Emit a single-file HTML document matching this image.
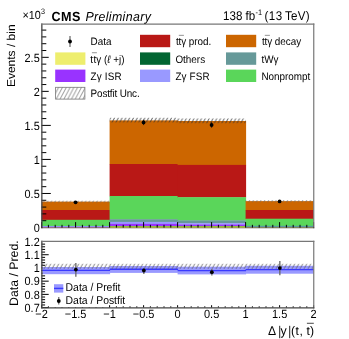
<!DOCTYPE html><html><head><meta charset="utf-8"><style>html,body{margin:0;padding:0;background:#fff;overflow:hidden;}svg{display:block;will-change:transform;}text{font-family:"Liberation Sans", sans-serif;text-rendering:geometricPrecision;}</style></head><body>
<svg width="349" height="339" viewBox="0 0 349 339">
<defs>
<pattern id="hat" patternUnits="userSpaceOnUse" width="3.8" height="7.2"><path d="M-1.9,7.2 L1.9,0 M1.9,7.2 L5.7,0" stroke="#333" stroke-width="0.8" fill="none"/></pattern>
<pattern id="hat2" patternUnits="userSpaceOnUse" width="3.8" height="7.2"><path d="M-1.9,7.2 L1.9,0 M1.9,7.2 L5.7,0" stroke="#666" stroke-width="0.75" fill="none"/></pattern>
<pattern id="hatr" patternUnits="userSpaceOnUse" width="4.0" height="7.0" patternTransform="translate(0.8,263.8)"><path d="M-2,7 L2,0 M2,7 L6,0" stroke="#555" stroke-width="0.75" fill="none"/></pattern>
<pattern id="hatl" patternUnits="userSpaceOnUse" width="3.8" height="7.2" patternTransform="translate(0.3,0)"><path d="M-1.9,7.2 L1.9,0 M1.9,7.2 L5.7,0" stroke="#666" stroke-width="0.7" fill="none"/></pattern>
</defs>
<rect x="0" y="0" width="349" height="339" fill="#fff"/>
<rect x="41.60" y="201.60" width="68.50" height="8.70" fill="#cc6600"/>
<rect x="41.60" y="210.00" width="68.50" height="10.10" fill="#b91816"/>
<rect x="41.60" y="219.80" width="68.50" height="6.50" fill="#5ad65a"/>
<rect x="41.60" y="226.00" width="68.50" height="1.30" fill="#8c8cf0"/>
<rect x="41.60" y="227.00" width="68.50" height="1.00" fill="#d49cba"/>
<rect x="109.60" y="120.40" width="68.50" height="43.90" fill="#cc6600"/>
<rect x="109.60" y="164.00" width="68.50" height="32.30" fill="#b91816"/>
<rect x="109.60" y="196.00" width="68.50" height="23.50" fill="#5ad65a"/>
<rect x="109.60" y="219.20" width="68.50" height="3.00" fill="#669999"/>
<rect x="109.60" y="221.90" width="68.50" height="2.30" fill="#9999ff"/>
<rect x="109.60" y="223.90" width="68.50" height="2.40" fill="#9933ff"/>
<rect x="109.60" y="226.00" width="68.50" height="1.30" fill="#8cbe3c"/>
<rect x="109.60" y="227.00" width="68.50" height="1.00" fill="#eee870"/>
<rect x="177.60" y="121.00" width="68.50" height="44.20" fill="#cc6600"/>
<rect x="177.60" y="164.90" width="68.50" height="32.60" fill="#b91816"/>
<rect x="177.60" y="197.20" width="68.50" height="23.50" fill="#5ad65a"/>
<rect x="177.60" y="220.40" width="68.50" height="3.10" fill="#669999"/>
<rect x="177.60" y="223.20" width="68.50" height="1.70" fill="#9999ff"/>
<rect x="177.60" y="224.60" width="68.50" height="1.70" fill="#9933ff"/>
<rect x="177.60" y="226.00" width="68.50" height="1.30" fill="#8cbe3c"/>
<rect x="177.60" y="227.00" width="68.50" height="1.00" fill="#eee870"/>
<rect x="245.60" y="201.10" width="68.00" height="9.20" fill="#cc6600"/>
<rect x="245.60" y="210.00" width="68.00" height="9.00" fill="#b91816"/>
<rect x="245.60" y="218.70" width="68.00" height="7.40" fill="#5ad65a"/>
<rect x="245.60" y="225.80" width="68.00" height="1.50" fill="#5a96a0"/>
<rect x="245.60" y="227.00" width="68.00" height="1.00" fill="#baba80"/>
<rect x="41.60" y="200.70" width="68.00" height="1.80" fill="url(#hat2)"/>
<rect x="109.60" y="117.80" width="68.00" height="4.60" fill="url(#hat)"/>
<rect x="177.60" y="118.50" width="68.00" height="4.70" fill="url(#hat)"/>
<rect x="245.60" y="200.10" width="68.00" height="2.10" fill="url(#hat2)"/>
<path d="M75.60,201.00V203.60" stroke="#111" stroke-width="0.9"/>
<circle cx="75.60" cy="202.30" r="1.9" fill="#000"/>
<path d="M143.60,119.70V125.10" stroke="#111" stroke-width="0.9"/>
<circle cx="143.60" cy="122.40" r="1.9" fill="#000"/>
<path d="M211.60,122.30V127.70" stroke="#111" stroke-width="0.9"/>
<circle cx="211.60" cy="125.00" r="1.9" fill="#000"/>
<path d="M279.60,200.10V202.70" stroke="#111" stroke-width="0.9"/>
<circle cx="279.60" cy="201.40" r="1.9" fill="#000"/>
<path d="M41.5,220.69h4.8 M41.5,213.89h4.8 M41.5,207.08h4.8 M41.5,200.27h4.8 M41.5,193.47h9.3 M41.5,186.66h4.8 M41.5,179.85h4.8 M41.5,173.04h4.8 M41.5,166.24h4.8 M41.5,159.43h9.3 M41.5,152.62h4.8 M41.5,145.82h4.8 M41.5,139.01h4.8 M41.5,132.20h4.8 M41.5,125.40h9.3 M41.5,118.59h4.8 M41.5,111.78h4.8 M41.5,104.97h4.8 M41.5,98.17h4.8 M41.5,91.36h9.3 M41.5,84.55h4.8 M41.5,77.75h4.8 M41.5,70.94h4.8 M41.5,64.13h4.8 M41.5,57.33h9.3 M41.5,50.52h4.8 M41.5,43.71h4.8 M41.5,36.90h4.8 M41.5,30.10h4.8 M41.60,227.6v-5.5 M48.40,227.6v-2.8 M55.20,227.6v-2.8 M62.00,227.6v-2.8 M68.80,227.6v-2.8 M75.60,227.6v-5.5 M82.40,227.6v-2.8 M89.20,227.6v-2.8 M96.00,227.6v-2.8 M102.80,227.6v-2.8 M109.60,227.6v-5.5 M116.40,227.6v-2.8 M123.20,227.6v-2.8 M130.00,227.6v-2.8 M136.80,227.6v-2.8 M143.60,227.6v-5.5 M150.40,227.6v-2.8 M157.20,227.6v-2.8 M164.00,227.6v-2.8 M170.80,227.6v-2.8 M177.60,227.6v-5.5 M184.40,227.6v-2.8 M191.20,227.6v-2.8 M198.00,227.6v-2.8 M204.80,227.6v-2.8 M211.60,227.6v-5.5 M218.40,227.6v-2.8 M225.20,227.6v-2.8 M232.00,227.6v-2.8 M238.80,227.6v-2.8 M245.60,227.6v-5.5 M252.40,227.6v-2.8 M259.20,227.6v-2.8 M266.00,227.6v-2.8 M272.80,227.6v-2.8 M279.60,227.6v-5.5 M286.40,227.6v-2.8 M293.20,227.6v-2.8 M300.00,227.6v-2.8 M306.80,227.6v-2.8 M313.60,227.6v-5.5" stroke="#000" stroke-width="1" fill="none"/>
<path d="M41.85,23.50V228.20" stroke="#444" stroke-width="1.3" fill="none"/>
<path d="M313.75,23.50V228.20" stroke="#777" stroke-width="1.2" fill="none"/>
<path d="M41.2,24.10H314.35" stroke="#777" stroke-width="1.2" fill="none"/>
<path d="M41.2,227.5H314.35" stroke="#000" stroke-opacity="0.3" stroke-width="1" fill="none"/>
<path d="M41.2,228.5H314.35" stroke="#000" stroke-opacity="0.17" stroke-width="1" fill="none"/>
<text transform="translate(39.70,231.80) scale(0.92,1)" font-size="11.848" text-anchor="end">0</text>
<text transform="translate(39.70,197.77) scale(0.92,1)" font-size="11.848" text-anchor="end">0.5</text>
<text transform="translate(39.70,163.73) scale(0.92,1)" font-size="11.848" text-anchor="end">1</text>
<text transform="translate(39.70,129.70) scale(0.92,1)" font-size="11.848" text-anchor="end">1.5</text>
<text transform="translate(39.70,95.66) scale(0.92,1)" font-size="11.848" text-anchor="end">2</text>
<text transform="translate(39.70,61.63) scale(0.92,1)" font-size="11.848" text-anchor="end">2.5</text>
<text transform="translate(22.60,19.00) scale(0.92,1)" font-size="11.739">×</text>
<text transform="translate(28.70,19.00) scale(0.92,1)" font-size="11.739">10</text>
<text transform="translate(40.90,13.60) scale(0.92,1)" font-size="7.826">3</text>
<text transform="translate(51.50,20.70) scale(0.955,1)" font-size="13.194" letter-spacing="0.419" font-weight="bold">CMS</text>
<text transform="translate(85.40,20.70) scale(0.95,1)" font-size="13.053" letter-spacing="0.368" font-style="italic">Preliminary</text>
<text transform="translate(223.00,19.90) scale(0.92,1)" font-size="12.609">138 fb</text>
<text transform="translate(255.60,14.70) scale(0.92,1)" font-size="8.043">-1</text>
<text transform="translate(264.40,19.90) scale(0.92,1)" font-size="12.609" letter-spacing="0.543">(13</text>
<text transform="translate(285.00,19.90) scale(0.92,1)" font-size="12.609" letter-spacing="0.326">TeV)</text>
<text transform="translate(14.5,87.1) scale(0.96,1) rotate(-90)" font-size="12">Events / bin</text>
<rect x="48.7" y="27" width="262" height="83" fill="#fff"/>
<path d="M70.0,36.00V46.90" stroke="#555" stroke-width="1.1"/>
<circle cx="70.0" cy="41.50" r="1.9" fill="#000"/>
<text transform="translate(90.60,44.90) scale(0.92,1)" font-size="10.761">Data</text>
<rect x="140.00" y="34.80" width="30.2" height="12.4" fill="#b91816"/>
<text transform="translate(175.90,44.90) scale(0.92,1)" font-size="10.761">t</text>
<text transform="translate(178.40,44.90) scale(0.92,1)" font-size="10.761">t</text>
<text transform="translate(181.30,44.90) scale(0.92,1)" font-size="10.761">γ</text>
<rect x="178.80" y="34.85" width="5.1" height="0.9" fill="#888"/>
<text transform="translate(188.70,44.90) scale(0.92,1)" font-size="10.761">prod.</text>
<rect x="226.00" y="34.80" width="30.2" height="12.4" fill="#cc6600"/>
<text transform="translate(261.90,44.90) scale(0.92,1)" font-size="10.761">t</text>
<text transform="translate(264.40,44.90) scale(0.92,1)" font-size="10.761">t</text>
<text transform="translate(267.30,44.90) scale(0.92,1)" font-size="10.761">γ</text>
<rect x="264.80" y="34.85" width="5.1" height="0.9" fill="#888"/>
<text transform="translate(274.70,44.90) scale(0.92,1)" font-size="10.761">decay</text>
<rect x="55.20" y="52.40" width="30.2" height="12.4" fill="#eeee6e"/>
<text transform="translate(90.30,62.50) scale(0.92,1)" font-size="10.761">t</text>
<text transform="translate(93.50,62.50) scale(0.92,1)" font-size="10.761">t</text>
<text transform="translate(96.20,62.50) scale(0.92,1)" font-size="10.761">γ</text>
<rect x="91.90" y="52.30" width="5.0" height="0.9" fill="#888"/>
<text transform="translate(103.90,62.50) scale(0.92,1)" font-size="10.761">(<tspan font-style="italic">ℓ</tspan> +j)</text>
<rect x="140.00" y="52.40" width="30.2" height="12.4" fill="#016532"/>
<text transform="translate(175.40,62.50) scale(0.92,1)" font-size="10.761">Others</text>
<rect x="226.00" y="52.40" width="30.2" height="12.4" fill="#669999"/>
<text transform="translate(261.40,62.50) scale(0.92,1)" font-size="10.761">tWγ</text>
<rect x="55.20" y="69.60" width="30.2" height="12.4" fill="#9933ff"/>
<text transform="translate(90.60,79.70) scale(0.92,1)" font-size="10.761" letter-spacing="0.163">Zγ ISR</text>
<rect x="140.00" y="69.60" width="30.2" height="12.4" fill="#9999ff"/>
<text transform="translate(175.40,79.70) scale(0.92,1)" font-size="10.761" letter-spacing="0.163">Zγ FSR</text>
<rect x="226.00" y="69.60" width="30.2" height="12.4" fill="#5ad65a"/>
<text transform="translate(261.40,79.70) scale(0.92,1)" font-size="10.761">Nonprompt</text>
<rect x="55.60" y="87.30" width="29.30" height="11.80" fill="url(#hatl)" stroke="#777" stroke-width="0.8"/>
<text transform="translate(90.60,97.00) scale(0.92,1)" font-size="10.761" letter-spacing="-0.152">Postfit Unc.</text>
<path d="M41.5,307.60h7.2 M41.5,304.96h3.6 M41.5,302.31h3.6 M41.5,299.67h3.6 M41.5,297.02h3.6 M41.5,294.38h7.2 M41.5,291.74h3.6 M41.5,289.09h3.6 M41.5,286.45h3.6 M41.5,283.80h3.6 M41.5,281.16h7.2 M41.5,278.52h3.6 M41.5,275.87h3.6 M41.5,273.23h3.6 M41.5,270.58h3.6 M41.5,267.94h7.2 M41.5,265.30h3.6 M41.5,262.65h3.6 M41.5,260.01h3.6 M41.5,257.36h3.6 M41.5,254.72h7.2 M41.5,252.08h3.6 M41.5,249.43h3.6 M41.5,246.79h3.6 M41.5,244.14h3.6 M41.5,241.50h7.2 M41.60,307.6v-2.4 M48.40,307.6v-1.3 M55.20,307.6v-1.3 M62.00,307.6v-1.3 M68.80,307.6v-1.3 M75.60,307.6v-2.4 M82.40,307.6v-1.3 M89.20,307.6v-1.3 M96.00,307.6v-1.3 M102.80,307.6v-1.3 M109.60,307.6v-2.4 M116.40,307.6v-1.3 M123.20,307.6v-1.3 M130.00,307.6v-1.3 M136.80,307.6v-1.3 M143.60,307.6v-2.4 M150.40,307.6v-1.3 M157.20,307.6v-1.3 M164.00,307.6v-1.3 M170.80,307.6v-1.3 M177.60,307.6v-2.4 M184.40,307.6v-1.3 M191.20,307.6v-1.3 M198.00,307.6v-1.3 M204.80,307.6v-1.3 M211.60,307.6v-2.4 M218.40,307.6v-1.3 M225.20,307.6v-1.3 M232.00,307.6v-1.3 M238.80,307.6v-1.3 M245.60,307.6v-2.4 M252.40,307.6v-1.3 M259.20,307.6v-1.3 M266.00,307.6v-1.3 M272.80,307.6v-1.3 M279.60,307.6v-2.4 M286.40,307.6v-1.3 M293.20,307.6v-1.3 M300.00,307.6v-1.3 M306.80,307.6v-1.3 M313.60,307.6v-2.4" stroke="#000" stroke-width="1" fill="none"/>
<rect x="42.40" y="267.00" width="67.70" height="7.20" fill="#9999ff"/>
<rect x="109.60" y="266.00" width="68.50" height="6.90" fill="#9999ff"/>
<rect x="177.60" y="266.70" width="68.50" height="7.70" fill="#9999ff"/>
<rect x="245.60" y="265.80" width="68.00" height="7.90" fill="#9999ff"/>
<path d="M41.60,270.40H110.10" stroke="#3a3aff" stroke-width="1.35"/>
<path d="M109.60,269.20H178.10" stroke="#3a3aff" stroke-width="1.35"/>
<path d="M177.60,270.60H246.10" stroke="#3a3aff" stroke-width="1.35"/>
<path d="M245.60,269.60H313.60" stroke="#3a3aff" stroke-width="1.35"/>
<rect x="41.5" y="263.8" width="272.0" height="5.0" fill="url(#hatr)"/>
<path d="M75.85,263.00V276.70" stroke="#666" stroke-width="1.3"/>
<circle cx="75.85" cy="269.60" r="1.9" fill="#000"/>
<path d="M143.85,268.30V274.00" stroke="#666" stroke-width="1.3"/>
<circle cx="143.85" cy="270.50" r="1.9" fill="#000"/>
<path d="M211.85,269.00V275.60" stroke="#666" stroke-width="1.3"/>
<circle cx="211.85" cy="272.20" r="1.9" fill="#000"/>
<path d="M279.85,261.00V275.20" stroke="#666" stroke-width="1.3"/>
<circle cx="279.85" cy="268.10" r="1.9" fill="#000"/>
<rect x="50.5" y="279" width="56" height="28.0" fill="#fff"/>
<rect x="54.0" y="284.2" width="9.3" height="8.4" fill="#9999ff"/>
<path d="M54.0,288.4H63.3" stroke="#3a3aff" stroke-width="1.4"/>
<text transform="translate(65.60,290.50) scale(0.92,1)" font-size="11.304">Data / Prefit</text>
<path d="M58.8,297.0V304.5" stroke="#333" stroke-width="0.9"/>
<circle cx="58.8" cy="301.0" r="1.9" fill="#000"/>
<text transform="translate(65.60,303.80) scale(0.92,1)" font-size="11.304">Data / Postfit</text>
<path d="M41.85,240.80V308.45" stroke="#444" stroke-width="1.3" fill="none"/>
<path d="M313.75,240.80V308.45" stroke="#777" stroke-width="1.2" fill="none"/>
<path d="M41.2,241.40H314.35" stroke="#777" stroke-width="1.2" fill="none"/>
<path d="M41.2,307.85H314.35" stroke="#444" stroke-width="1.2" fill="none"/>
<text transform="translate(39.70,311.90) scale(0.92,1)" font-size="11.848" text-anchor="end">0.7</text>
<text transform="translate(39.70,298.68) scale(0.92,1)" font-size="11.848" text-anchor="end">0.8</text>
<text transform="translate(39.70,285.46) scale(0.92,1)" font-size="11.848" text-anchor="end">0.9</text>
<text transform="translate(39.70,272.24) scale(0.92,1)" font-size="11.848" text-anchor="end">1</text>
<text transform="translate(39.70,259.02) scale(0.92,1)" font-size="11.848" text-anchor="end">1.1</text>
<text transform="translate(39.70,245.80) scale(0.92,1)" font-size="11.848" text-anchor="end">1.2</text>
<text transform="translate(41.60,318.10) scale(0.92,1)" font-size="11.957" text-anchor="middle">−2</text>
<text transform="translate(75.60,318.10) scale(0.92,1)" font-size="11.957" text-anchor="middle">−1.5</text>
<text transform="translate(109.60,318.10) scale(0.92,1)" font-size="11.957" text-anchor="middle">−1</text>
<text transform="translate(143.60,318.10) scale(0.92,1)" font-size="11.957" text-anchor="middle">−0.5</text>
<text transform="translate(177.60,318.10) scale(0.92,1)" font-size="11.957" text-anchor="middle">0</text>
<text transform="translate(211.60,318.10) scale(0.92,1)" font-size="11.957" text-anchor="middle">0.5</text>
<text transform="translate(245.60,318.10) scale(0.92,1)" font-size="11.957" text-anchor="middle">1</text>
<text transform="translate(279.60,318.10) scale(0.92,1)" font-size="11.957" text-anchor="middle">1.5</text>
<text transform="translate(313.60,318.10) scale(0.92,1)" font-size="11.957" text-anchor="middle">2</text>
<text transform="translate(17.8,305.9) scale(1.0,1) rotate(-90)" font-size="12.3">Data / Pred.</text>
<text transform="translate(267.90,335.30) scale(0.97,1)" font-size="12.577">Δ</text>
<rect x="279.2" y="325.8" width="1.0" height="12.4" fill="#222"/>
<text transform="translate(280.50,335.30) scale(0.97,1)" font-size="12.784">y</text>
<rect x="289.2" y="325.8" width="1.0" height="12.4" fill="#222"/>
<text transform="translate(290.90,335.30) scale(0.97,1)" font-size="12.577" letter-spacing="0.619">(t,</text>
<text transform="translate(306.50,335.30) scale(0.97,1)" font-size="12.577">t)</text>
<rect x="306.9" y="322.8" width="6.9" height="0.9" fill="#333"/>
</svg></body></html>
